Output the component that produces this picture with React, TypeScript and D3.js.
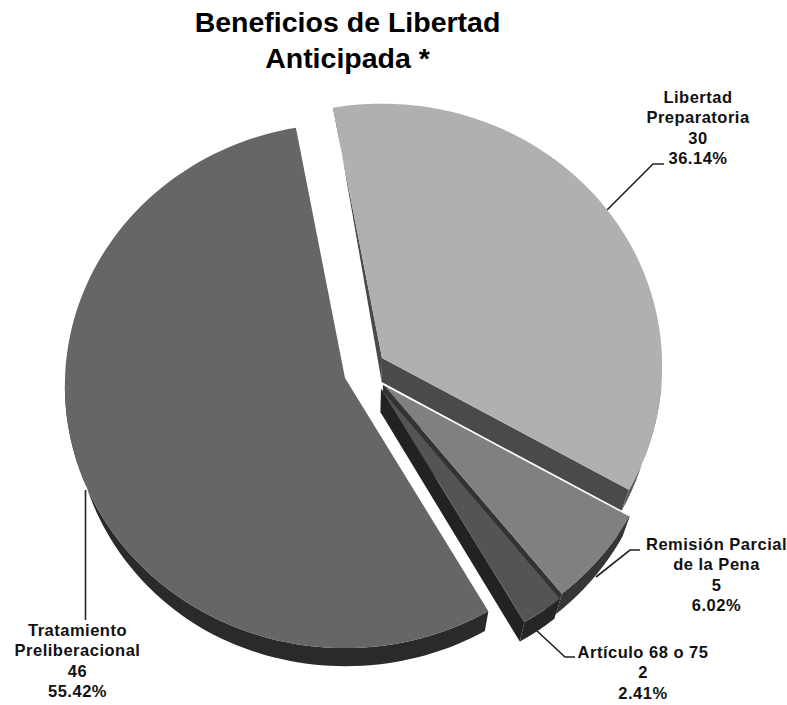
import React from "react";
import * as d3 from "d3";

const categories = ["Libertad Preparatoria", "Remisión Parcial de la Pena", "Artículo 68 o 75", "Tratamiento Preliberacional"];
const values = [30, 5, 2, 46];
const percents = ["36.14%", "6.02%", "2.41%", "55.42%"];
const labelLines = [
  ["Libertad", "Preparatoria"],
  ["Remisión Parcial", "de la Pena"],
  ["Artículo 68 o 75"],
  ["Tratamiento", "Preliberacional"],
];
const topColors = ["#b0b0b0", "#808080", "#545454", "#666666"];
const radialWallColors = ["#4a4a4a", "#333333", "#222222", "#2c2c2c"];
const rimColors = ["#5e5e5e", "#363636", "#262626", "#2a2a2a"];
const apexes: [number, number][] = [[382, 358], [383, 384], [381, 389], [345, 378]];
const labelPos: [number, number][] = [[698, 103], [716.5, 550], [643, 658], [77.5, 636]];
const leaders: [number, number][][] = [
  [[607, 210], [653, 164], [664, 164]],
  [[596, 577], [630, 550], [640, 550]],
  [[536, 630], [565, 657], [575, 657]],
  [[85.5, 490], [85.5, 620]],
];

const RX = 280, RY = 262, K = 0.03, START = (-10.4 * Math.PI) / 180;
const depthAt = d3.scaleLinear().domain([100, 358, 610, 650]).range([0, 24, 20, 18]).clamp(true);
const lineGen = d3.line();

type P = [number, number];
function rimPoint(a: P, t: number): P {
  const c = Math.cos(t), s = Math.sin(t), w = 1 + K * c;
  return [a[0] + (RX * s) / w, a[1] - (RY * c) / w];
}
function lower(p: P): P {
  return [p[0] - (p[0] - 370) * 0.03, p[1] + depthAt(p[1])];
}
function arcPts(a: P, t0: number, t1: number): P[] {
  return d3.range(0, 121).map((i) => rimPoint(a, t0 + ((t1 - t0) * i) / 120));
}

export default function App() {
  const arcs = d3.pie<number>().sort(null).startAngle(START).endAngle(START + 2 * Math.PI)(values);
  return (
    <svg width={787} height={705} style={{ position: "absolute", left: 0, top: 0, background: "#fff" }} fontFamily="'Liberation Sans', Arial, sans-serif">
      <g fontWeight="bold" fontSize={28.5} textAnchor="middle" fill="#000">
        <text x={347.5} y={32}>Beneficios de Libertad</text>
        <text x={347.5} y={68}>Anticipada *</text>
      </g>
      {leaders.map((l, i) => (
        <path key={i} d={lineGen(l) || ""} fill="none" stroke="#222" strokeWidth={1.6} />
      ))}
      {arcs.map((d, i) => {
        const a = apexes[i];
        const pts = arcPts(a, d.startAngle, d.endAngle);
        const first = pts[0], last = pts[pts.length - 1];
        const low = pts.filter((p) => p[1] > 380);
        const rim = [...low, ...low.map(lower).reverse()];
        const wallA = [a, first, lower(first), lower(a)] as P[];
        const wallB = [a, last, lower(last), lower(a)] as P[];
        const top = [a, ...pts] as P[];
        return (
          <g key={categories[i]}>
            {i !== 3 && <path d={(lineGen(wallA) || "") + "Z"} fill={radialWallColors[i]} />}
            {i !== 3 && <path d={(lineGen(wallB) || "") + "Z"} fill={radialWallColors[i]} />}
            <path d={(lineGen(rim) || "") + "Z"} fill={rimColors[i]} />
            <path d={(lineGen(top) || "") + "Z"} fill={topColors[i]} />
            {i === 1 && <path d={lineGen([a, first]) || ""} stroke="#fff" strokeWidth={1.6} fill="none" />}
          </g>
        );
      })}
      <g fontWeight="bold" fontSize={16.5} letterSpacing={0.5} textAnchor="middle" fill="#111">
        {categories.map((c, i) => {
          const lines = [...labelLines[i], String(values[i]), percents[i]];
          return (
            <text key={c} x={labelPos[i][0]} y={labelPos[i][1]}>
              {lines.map((t, j) => (
                <tspan key={j} x={labelPos[i][0]} dy={j === 0 ? 0 : 20.3}>{t}</tspan>
              ))}
            </text>
          );
        })}
      </g>
    </svg>
  );
}
